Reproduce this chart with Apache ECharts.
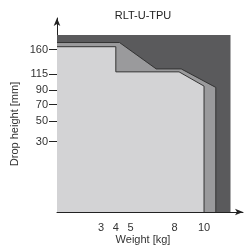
<!DOCTYPE html>
<html>
<head>
<meta charset="utf-8">
<script src="https://cdn.jsdelivr.net/npm/echarts@6/dist/echarts.min.js"></script>
<style>
html,body{margin:0;padding:0;background:#fff;}
#c{width:244px;height:246px;}
</style>
</head>
<body>
<div id="c"></div>
<script>
// ---- data (weight in kg, drop height in mm) ----
var xTicks = [3, 4, 5, 8, 10];
var yTicks = [30, 50, 70, 90, 115, 160];
var outerX = [0, 11.8];
var outerY = [190, 190];
var midX = [0, 4.25, 6.75, 8.45, 10.8, 10.8];
var midY = [174, 174, 124, 124, 94, 0];
var innerX = [0, 4.0, 4.0, 8.3, 10.0, 10.0];
var innerY = [165.5, 165.5, 119, 119, 96, 0];

// drop-height axis of the drawing is a square-root scale
function f(v) { return Math.sqrt(v); }
function pts(xs, ys) { return xs.map(function (x, i) { return [x, f(ys[i])]; }); }

var font = 'Liberation Sans, Arial, sans-serif';
var txt = '#333';
var yMax = 15.1, xMax = 12.65;

var chart = echarts.init(document.getElementById('c'), null, {renderer: 'canvas'});
chart.setOption({
  animation: false,
  grid: {left: 57, right: 1, top: 18, bottom: 34},
  xAxis: {
    type: 'value', min: 0, max: xMax,
    splitLine: {show: false},
    axisLine: {lineStyle: {color: '#222', width: 1}, symbol: ['none', 'arrow'], symbolSize: [5, 8]},
    axisTick: {show: true, inside: true, length: 8, customValues: xTicks, lineStyle: {color: '#222'}},
    axisLabel: {customValues: xTicks, margin: 10, fontSize: 11, color: txt, fontFamily: font}
  },
  yAxis: [{
    type: 'value', min: 0, max: yMax,
    splitLine: {show: false},
    axisLine: {lineStyle: {color: '#222', width: 1}, symbol: ['none', 'arrow'], symbolSize: [5, 8]},
    axisTick: {show: true, length: 8, customValues: yTicks.map(f), lineStyle: {color: '#222'}},
    axisLabel: {customValues: yTicks.map(f), margin: 9, fontSize: 11, color: txt, fontFamily: font,
      formatter: function (v) { return String(Math.round(v * v)); }}
  }, {
    type: 'value', min: 0, max: yMax, position: 'left',
    splitLine: {show: false},
    axisLine: {show: false},
    axisTick: {show: true, inside: true, length: 8, customValues: yTicks.map(f), lineStyle: {color: '#222'}},
    axisLabel: {show: false}
  }],
  series: [{
    type: 'line', data: pts(outerX, outerY), showSymbol: false, silent: true,
    lineStyle: {width: 0}, areaStyle: {color: '#5a5a5c', opacity: 1}, z: 1
  }, {
    type: 'line', data: pts(midX, midY), showSymbol: false, silent: true,
    lineStyle: {width: 1, color: '#333'}, areaStyle: {color: '#9a9a9c', opacity: 1}, z: 2
  }, {
    type: 'line', data: pts(innerX, innerY), showSymbol: false, silent: true,
    lineStyle: {width: 1, color: '#333'}, areaStyle: {color: '#d3d3d5', opacity: 1}, z: 3
  }],
  graphic: [{
    type: 'text', x: 143, y: 16, style: {text: 'RLT-U-TPU', font: '11px ' + font, fill: '#222', align: 'center', verticalAlign: 'middle'}
  }, {
    type: 'text', x: 143, y: 240, style: {text: 'Weight [kg]', font: '11px ' + font, fill: txt, align: 'center', verticalAlign: 'middle'}
  }, {
    type: 'text', x: 15, y: 124, rotation: Math.PI / 2, style: {text: 'Drop height [mm]', font: '11px ' + font, fill: txt, align: 'center', verticalAlign: 'middle'}
  }]
});
</script>
</body>
</html>
